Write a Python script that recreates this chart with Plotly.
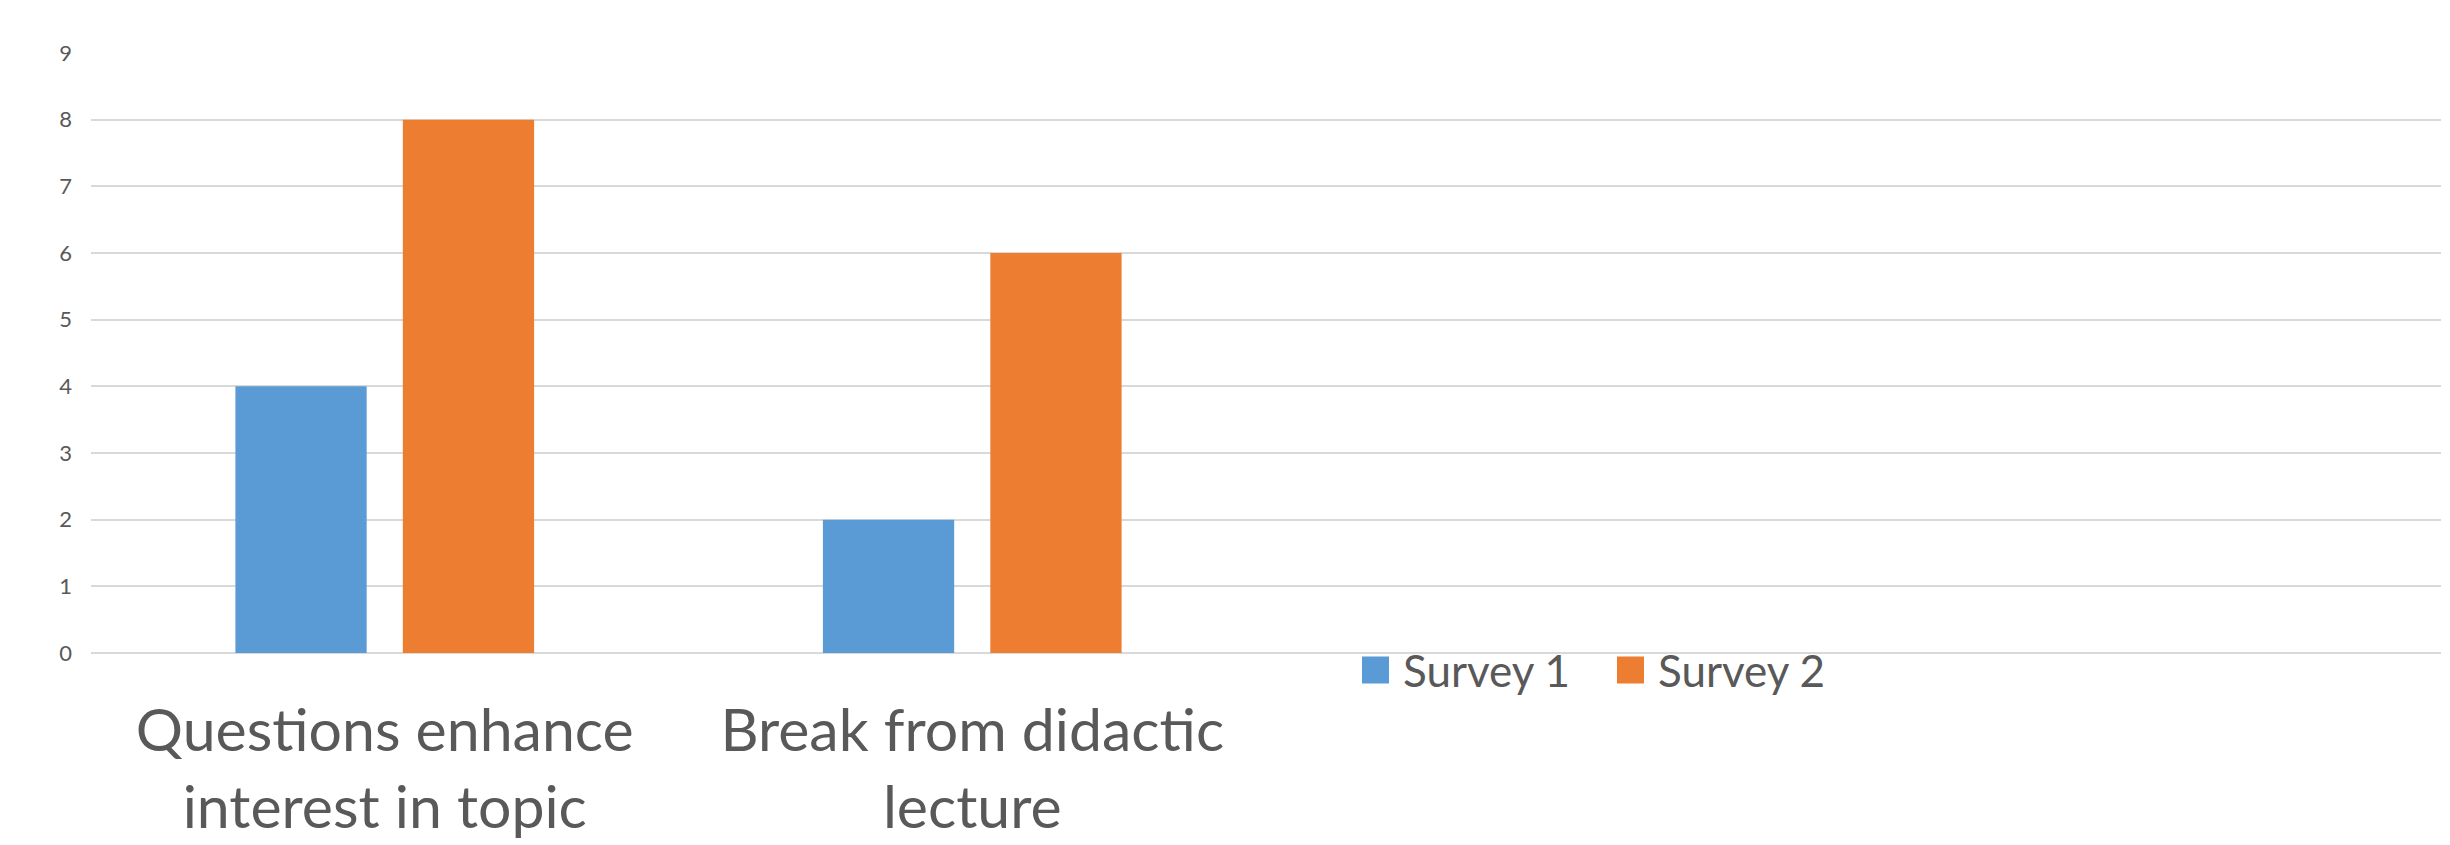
import plotly.graph_objects as go

# Survey responses per statement (two empty slots keep the Excel-style spacing)
categories = ["Questions enhance<br>interest in topic", "Break from didactic<br>lecture", " ", "  "]
series_names = ["Survey 1", "Survey 2"]
survey_1 = [4, 2, None, None]
survey_2 = [8, 6, None, None]
y_ticks = [0, 1, 2, 3, 4, 5, 6, 7, 8, 9]

BLUE = "#5b9bd5"
ORANGE = "#ed7d31"
GRID = "#d9d9d9"
TEXT = "#595959"
FONT = "Lato, Calibri, sans-serif"

W, H = 2450, 845
ML, MR, MT, MB = 91, 9, 53, 192
PW, PH = W - ML - MR, H - MT - MB

fig = go.Figure()
for name, vals, col in zip(series_names, [survey_1, survey_2], [BLUE, ORANGE]):
    fig.add_trace(go.Bar(name=name, x=categories, y=vals, marker_color=col,
                         marker_line_width=0, showlegend=False))


def px_x(p):
    return (p - ML) / PW


def px_y(p):
    return (H - MB - p) / PH


# Excel-style legend under the axis: large square swatches followed by labels
legend_left = [1362, 1617]
sw = 27
legend_cy = 670
for left, name, col in zip(legend_left, series_names, [BLUE, ORANGE]):
    fig.add_shape(type="rect", xref="paper", yref="paper",
                  x0=px_x(left), x1=px_x(left + sw),
                  y0=px_y(legend_cy + sw / 2), y1=px_y(legend_cy - sw / 2),
                  fillcolor=col, line_width=0)
    fig.add_annotation(xref="paper", yref="paper", x=px_x(left + sw + 12), y=px_y(legend_cy),
                       xanchor="left", yanchor="middle", text=name, showarrow=False,
                       font=dict(size=44, color=TEXT, family=FONT))

fig.update_layout(
    width=W, height=H,
    margin=dict(l=ML, r=MR, t=MT, b=MB, autoexpand=False),
    paper_bgcolor="white", plot_bgcolor="white",
    barmode="group", bargap=0.43, bargroupgap=0.216,
    font=dict(family=FONT, color=TEXT),
    showlegend=False,
)
fig.update_xaxes(
    type="category", categoryorder="array", categoryarray=categories,
    showgrid=False, showline=False, ticks="", automargin=False,
    tickfont=dict(size=59, color=TEXT), ticklabelstandoff=38,
)
fig.update_yaxes(
    range=[0, 9], tickvals=y_ticks, showgrid=True, gridcolor=GRID, gridwidth=2,
    zeroline=True, zerolinecolor=GRID, zerolinewidth=2, showline=False, ticks="",
    automargin=False, tickfont=dict(size=22, color=TEXT), ticklabelstandoff=18,
)

fig.write_html("out.html")
